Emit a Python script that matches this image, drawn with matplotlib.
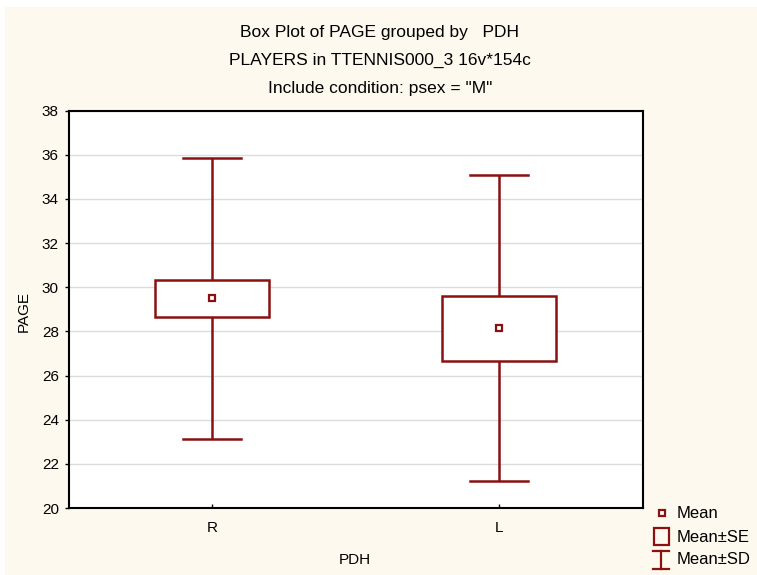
import matplotlib
matplotlib.use("Agg")
import matplotlib.pyplot as plt
from matplotlib.patches import Rectangle
from matplotlib.lines import Line2D

plt.rcParams['font.family'] = ['Liberation Sans', 'DejaVu Sans']

# Group summary statistics for PAGE by PDH (males only)
groups = ["R", "L"]
means = [29.49, 28.145]
se = [0.85, 1.475]
sd = [6.36, 6.94]

yticks = [20, 22, 24, 26, 28, 30, 32, 34, 36, 38]
title_lines = ["Box Plot of PAGE grouped by   PDH",
               "PLAYERS in TTENNIS000_3 16v*154c",
               'Include condition: psex = "M"']
x_label = "PDH"
y_label = "PAGE"
legend_labels = ["Mean", "Mean\u00b1SE", "Mean\u00b1SD"]

W, H = 757, 575
DARK_RED = "#8a1111"
CREAM = "#fdf9ee"

fig = plt.figure(figsize=(W / 100, H / 100), dpi=100)
fig.patch.set_facecolor("white")

# cream panel behind everything
bg = fig.add_axes([0, 0, 1, 1], zorder=-10)
bg.add_patch(Rectangle((5 / W, 0), 1, 1 - 7 / H, transform=bg.transAxes,
                       facecolor=CREAM, edgecolor="none"))
bg.axis("off")

left, right, top, bottom = 68.5, 642.5, 110.5, 508
ax = fig.add_axes([left / W, 1 - bottom / H, (right - left) / W, (bottom - top) / H])
ax.set_facecolor("white")

positions = list(range(len(groups)))
box_w = 0.4
cap_w = 0.2
lw = 1.8
for x, m, e, d in zip(positions, means, se, sd):
    # SD whisker
    ax.plot([x, x], [m + e, m + d], color=DARK_RED, lw=lw, solid_capstyle="butt", zorder=3)
    ax.plot([x, x], [m - d, m - e], color=DARK_RED, lw=lw, solid_capstyle="butt", zorder=3)
    ax.plot([x - cap_w / 2, x + cap_w / 2], [m + d, m + d], color=DARK_RED, lw=lw, zorder=3)
    ax.plot([x - cap_w / 2, x + cap_w / 2], [m - d, m - d], color=DARK_RED, lw=lw, zorder=3)
    # SE box
    ax.add_patch(Rectangle((x - box_w / 2, m - e), box_w, 2 * e, facecolor="white",
                           edgecolor=DARK_RED, lw=lw, zorder=3))
    # mean marker
    ax.plot([x], [m], marker="s", ms=5, mfc="white", mec=DARK_RED, mew=1.6, zorder=4)

ax.set_xlim(-0.5, 1.5)
ax.set_ylim(20, 38)
ax.set_yticks(yticks)
ax.set_xticks(positions)
ax.set_xticklabels(groups)
ax.grid(axis="y", color="#dcdcdc", lw=1)
ax.set_axisbelow(True)
for s in ax.spines.values():
    s.set_linewidth(1.5)
    s.set_color("black")
ax.tick_params(axis="y", direction="out", length=3, width=1, pad=4, labelsize=11)
ax.tick_params(axis="x", direction="in", length=3, width=1, pad=9, labelsize=11)

for i, t in enumerate(title_lines):
    fig.text(380 / W, 1 - (33 + 27.5 * i) / H, t, ha="center", va="center", fontsize=12.5)

fig.text(355 / W, 1 - 560 / H, x_label, ha="center", va="center", fontsize=11)
fig.text(24 / W, 1 - 311 / H, y_label, ha="center", va="center", rotation=90, fontsize=11)

# legend drawn in pixel coordinates
ov = fig.add_axes([0, 0, 1, 1], zorder=10)
ov.set_xlim(0, W)
ov.set_ylim(H, 0)
ov.axis("off")
ov.plot([661.5], [513], marker="s", ms=5, mfc="white", mec=DARK_RED, mew=1.6)
ov.add_patch(Rectangle((653.5, 528), 15, 17, facecolor="none", edgecolor=DARK_RED, lw=1.6))
ov.add_line(Line2D([661, 661], [551, 569], color=DARK_RED, lw=1.6))
ov.add_line(Line2D([653, 669], [551, 551], color=DARK_RED, lw=1.6))
ov.add_line(Line2D([653, 669], [569, 569], color=DARK_RED, lw=1.6))
for lab, yy in zip(legend_labels, [513, 537, 560]):
    ov.text(677, yy, lab, ha="left", va="center", fontsize=12)

fig.savefig("out.png", dpi=100, facecolor=fig.get_facecolor())
